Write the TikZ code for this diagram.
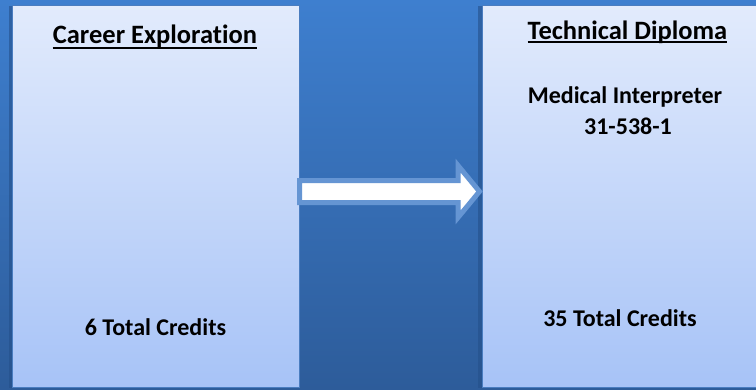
\documentclass[tikz,border=0pt]{standalone}
\usepackage{fontspec}
\setmainfont{Carlito}[Ligatures={NoCommon,NoRare,NoContextual}]
\usetikzlibrary{calc}
\definecolor{bgtop}{HTML}{3E7FCF}
\definecolor{bgbot}{HTML}{2D5C9A}
\definecolor{boxtop}{HTML}{E2EBFC}
\definecolor{boxbot}{HTML}{A7C3F7}
\definecolor{boxline}{HTML}{4A7DC0}
\definecolor{shadowc}{HTML}{24508A}
\definecolor{arrowline}{HTML}{6595D3}
\tikzset{
  panel/.style={draw=boxline, line width=0.8pt, top color=boxtop, bottom color=boxbot},
  title/.style={font=\fontsize{26.5}{30}\selectfont\bfseries, anchor=base, inner sep=0pt},
  body/.style={font=\fontsize{24}{28}\selectfont\bfseries, anchor=base, inner sep=0pt},
  uline/.style={line width=2pt, black},
  blockarrow/.style={fill=white, draw=arrowline, line width=5pt, line join=miter}
}
\begin{document}
\begin{tikzpicture}[x=1pt,y=-1pt]
\useasboundingbox (0,0) rectangle (756,389);
\shade[top color=bgtop, bottom color=bgbot] (0,0) rectangle (756,389);
% shadows
\fill[shadowc, opacity=0.6] (9,6) rectangle (13,388);
\fill[shadowc, opacity=0.6] (478,6) rectangle (483,388);
% panels
\path[panel] (12,5) rectangle (299,387) coordinate (lbr);
\path[panel] (482,5) rectangle (757,387) coordinate (rbr);
% texts
\node[title] (t1) at (155,43.3) {Career Exploration};
\draw[uline] ($(t1.base west)+(0,4.3)$) -- ($(t1.base east)+(0,4.3)$);
\node[title] (t2) at (627.5,39.3) {Technical Diploma};
\draw[uline] ($(t2.base west)+(0,2.5)$) -- ($(t2.base east)+(0,2.5)$);
\node[body] (m1) at (625,103.3) {Medical Interpreter};
\node[body] (m2) at (628,134.3) {31-538-1};
\node[body] (c1) at (155.5,335) {6 Total Credits};
\node[body] (c2) at (620,326) {35 Total Credits};
% block arrow
\path[blockarrow] (299.5,180.5) -- (458,180.5) -- (458,165.5) -- (479.5,191.5)
  -- (458,217.5) -- (458,202.5) -- (299.5,202.5) -- cycle;
\end{tikzpicture}
\end{document}
